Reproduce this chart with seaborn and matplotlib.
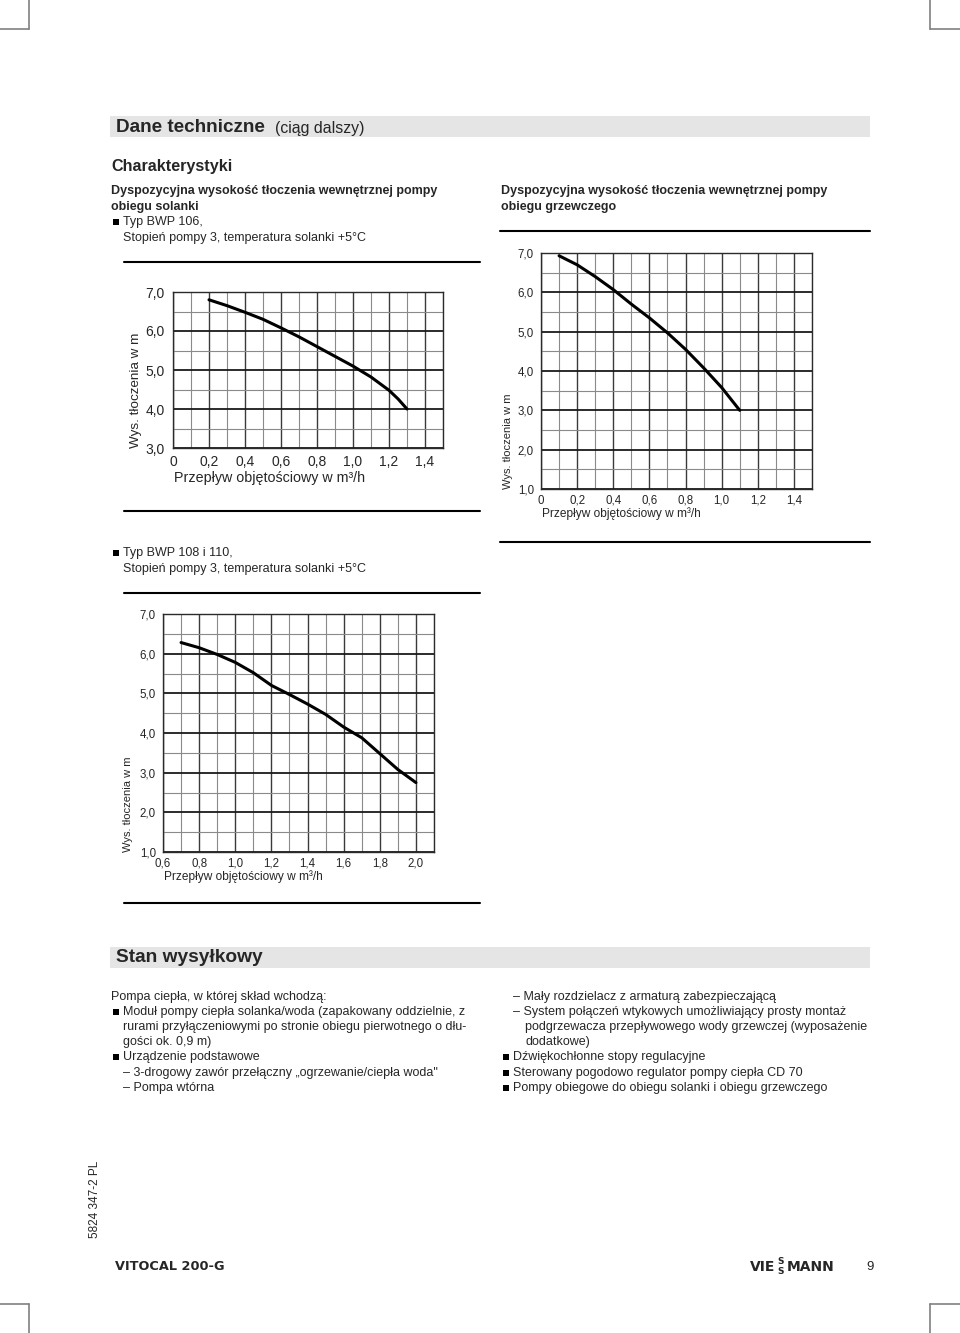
import matplotlib
matplotlib.use("Agg")
import matplotlib.pyplot as plt
from matplotlib.lines import Line2D
from matplotlib.patches import Rectangle
import seaborn as sns
import pandas as pd
import numpy as np

# ---------------- data ----------------
# Chart 1: brine circuit pump, BWP 106
flow_106 = [0.2, 0.3, 0.4, 0.5, 0.6, 0.7, 0.8, 0.9, 1.0, 1.1, 1.2, 1.25, 1.3]
head_106 = [6.80, 6.65, 6.48, 6.30, 6.08, 5.85, 5.60, 5.35, 5.10, 4.82, 4.48, 4.26, 4.00]
# Chart 2: heating circuit pump
flow_heat = [0.1, 0.2, 0.3, 0.4, 0.5, 0.6, 0.7, 0.8, 0.9, 1.0, 1.1]
head_heat = [6.93, 6.70, 6.40, 6.07, 5.70, 5.35, 4.97, 4.55, 4.08, 3.58, 3.00]
# Chart 3: brine circuit pump, BWP 108 / 110
flow_108 = [0.7, 0.8, 0.9, 1.0, 1.1, 1.2, 1.3, 1.4, 1.5, 1.6, 1.7, 1.8, 1.9, 2.0]
head_108 = [6.28, 6.15, 5.98, 5.78, 5.52, 5.20, 4.97, 4.73, 4.47, 4.15, 3.88, 3.48, 3.08, 2.75]

xticks_1 = [0, 0.2, 0.4, 0.6, 0.8, 1.0, 1.2, 1.4]
xticks_3 = [0.6, 0.8, 1.0, 1.2, 1.4, 1.6, 1.8, 2.0]
xticklabels_1 = ["0", "0,2", "0,4", "0,6", "0,8", "1,0", "1,2", "1,4"]
xticklabels_3 = ["0,6", "0,8", "1,0", "1,2", "1,4", "1,6", "1,8", "2,0"]
yticks_1 = [3, 4, 5, 6, 7]
yticks_2 = [1, 2, 3, 4, 5, 6, 7]
yticklabels_1 = ["3,0", "4,0", "5,0", "6,0", "7,0"]
yticklabels_2 = ["1,0", "2,0", "3,0", "4,0", "5,0", "6,0", "7,0"]

ylabel = "Wys. tłoczenia w m"
xlabel = "Przepływ objętościowy w m³/h"

# ---------------- style ----------------
sns.set_style("white")
plt.rcParams["font.family"] = ["Liberation Sans", "DejaVu Sans"]

W, H = 960, 1333
fig = plt.figure(figsize=(W / 100, H / 100), dpi=100)


def fx(x):
    return x / W


def fy(y):
    return 1 - y / H


def txt(x, y, s, size=9, weight="normal", ha="left", va="center", **kw):
    fig.text(fx(x), fy(y), s, fontsize=size, fontweight=weight, ha=ha, va=va, **kw)


def hline(y, x0, x1, lw=1.5, color="black"):
    fig.add_artist(Line2D([fx(x0), fx(x1)], [fy(y), fy(y)], lw=lw, color=color,
                          transform=fig.transFigure))


def vline(x, y0, y1, lw=1.0, color="#808080"):
    fig.add_artist(Line2D([fx(x), fx(x)], [fy(y0), fy(y1)], lw=lw, color=color,
                          transform=fig.transFigure))


def bar(y0, y1, x0=110, x1=870):
    fig.add_artist(Rectangle((fx(x0), fy(y1)), (x1 - x0) / W, (y1 - y0) / H,
                             facecolor="#e5e5e5", edgecolor="none",
                             transform=fig.transFigure, zorder=0))


def bullet(x, y):
    fig.add_artist(Rectangle((fx(x), fy(y + 3)), 6 / W, 6 / H,
                             facecolor="black", edgecolor="none",
                             transform=fig.transFigure))


def chart(l, t, r, b, flows, heads, xlim, ylim, xt, xtl, yt, ytl,
          fs, pad_y, pad_x, ylab_x, xlab_y, xlab_fs):
    ax = fig.add_axes([fx(l), fy(b), (r - l) / W, (b - t) / H])
    df = pd.DataFrame({"flow": flows, "head": heads})
    x0, x1 = xlim
    y0, y1 = ylim
    xs = np.round(np.arange(x0, x1 + 1e-9, 0.1), 2)
    for xv in xs:
        major = abs(round(xv * 10) % 2) == 0
        ax.axvline(xv, color="#3a3a3a" if major else "#8a8a8a",
                   lw=1.0 if major else 0.8, zorder=1)
    ys = np.arange(y0, y1 + 1e-9, 0.5)
    for yv in ys:
        major = abs(yv - round(yv)) < 1e-6
        ax.axhline(yv, color="#1a1a1a" if major else "#8a8a8a",
                   lw=1.3 if major else 0.8, zorder=1)
    sns.lineplot(data=df, x="flow", y="head", ax=ax, color="black", lw=2.2,
                 zorder=3, legend=False)
    ax.set_xlim(xlim)
    ax.set_ylim(ylim)
    ax.set_xticks(xt)
    ax.set_xticklabels(xtl)
    ax.set_yticks(yt)
    ax.set_yticklabels(ytl)
    ax.tick_params(axis="both", length=0, labelsize=fs)
    ax.tick_params(axis="y", pad=pad_y)
    ax.tick_params(axis="x", pad=pad_x)
    ax.set_xlabel("")
    ax.set_ylabel("")
    for s in ax.spines.values():
        s.set_color("#2a2a2a")
        s.set_linewidth(1.0)
    txt(ylab_x, b, ylabel, size=fs * 0.97, rotation=90, ha="center", va="bottom")
    txt(l + 1, xlab_y, xlabel, size=xlab_fs)
    return ax


# ---------------- page marks ----------------
for xm in (29, 930):
    vline(xm, 0, 29, lw=1.2)
    vline(xm, 1304, 1333, lw=1.2)
hline(29, 0, 29, lw=1.2, color="#808080")
hline(29, 930, 960, lw=1.2, color="#808080")
hline(1304, 0, 29, lw=1.2, color="#808080")
hline(1304, 930, 960, lw=1.2, color="#808080")

# ---------------- header ----------------
bar(116, 137)
txt(116, 127, "Dane techniczne", size=13.6, weight="bold")
txt(275, 128, "(ciąg dalszy)", size=11.4)
txt(111, 167, "Charakterystyki", size=11.6, weight="bold")

hs = 9.0
txt(111, 191, "Dyspozycyjna wysokość tłoczenia wewnętrznej pompy", size=hs, weight="bold")
txt(111, 207, "obiegu solanki", size=hs, weight="bold")
bullet(113, 222)
txt(123, 222, "Typ BWP 106,", size=hs)
txt(123, 238, "Stopień pompy 3, temperatura solanki +5°C", size=hs)
hline(262, 124, 480)

txt(501, 191, "Dyspozycyjna wysokość tłoczenia wewnętrznej pompy", size=hs, weight="bold")
txt(501, 207, "obiegu grzewczego", size=hs, weight="bold")
hline(231, 500, 870)

chart(173, 292, 443, 448, flow_106, head_106, (0, 1.5), (3, 7),
      xticks_1, xticklabels_1, yticks_1, yticklabels_1,
      fs=10, pad_y=6, pad_x=5, ylab_x=136, xlab_y=478, xlab_fs=10.3)
hline(511, 124, 480)

chart(541, 253, 812, 489, flow_heat, head_heat, (0, 1.5), (1, 7),
      xticks_1, xticklabels_1, yticks_2, yticklabels_2,
      fs=8.3, pad_y=5, pad_x=4, ylab_x=508, xlab_y=514, xlab_fs=8.6)
hline(542, 500, 870)

bullet(113, 553)
txt(123, 553, "Typ BWP 108 i 110,", size=hs)
txt(123, 569, "Stopień pompy 3, temperatura solanki +5°C", size=hs)
hline(593, 124, 480)

chart(163, 614, 434, 852, flow_108, head_108, (0.6, 2.1), (1, 7),
      xticks_3, xticklabels_3, yticks_2, yticklabels_2,
      fs=8.3, pad_y=5, pad_x=4, ylab_x=128, xlab_y=877, xlab_fs=8.6)
hline(903, 124, 480)

# ---------------- Stan wysyłkowy ----------------
bar(947, 968)
txt(116, 958, "Stan wysyłkowy", size=13.8, weight="bold")

bs = 9.0
left_lines = [
    (111, 997, "Pompa ciepła, w której skład wchodzą:"),
    (123, 1012, "Moduł pompy ciepła solanka/woda (zapakowany oddzielnie, z"),
    (123, 1027, "rurami przyłączeniowymi po stronie obiegu pierwotnego o dłu-"),
    (123, 1042, "gości ok. 0,9 m)"),
    (123, 1057, "Urządzenie podstawowe"),
    (123, 1073, "– 3-drogowy zawór przełączny „ogrzewanie/ciepła woda\""),
    (123, 1088, "– Pompa wtórna"),
]
for x, y, s in left_lines:
    txt(x, y, s, size=bs)
for y in (1012, 1057):
    bullet(113, y)

right_lines = [
    (513, 997, "– Mały rozdzielacz z armaturą zabezpieczającą"),
    (513, 1012, "– System połączeń wtykowych umożliwiający prosty montaż"),
    (525, 1027, "podgrzewacza przepływowego wody grzewczej (wyposażenie"),
    (525, 1042, "dodatkowe)"),
    (513, 1057, "Dźwiękochłonne stopy regulacyjne"),
    (513, 1073, "Sterowany pogodowo regulator pompy ciepła CD 70"),
    (513, 1088, "Pompy obiegowe do obiegu solanki i obiegu grzewczego"),
]
for x, y, s in right_lines:
    txt(x, y, s, size=bs)
for y in (1057, 1073, 1088):
    bullet(503, y)

# ---------------- footer ----------------
logo_font = ["DejaVu Sans"]
txt(95, 1199, "5824 347-2 PL", size=8.5, rotation=90, ha="center", va="center")
txt(115, 1267, "VITOCAL 200-G", size=9.3, weight="bold", family=logo_font)
txt(750, 1267, "VIE", size=10, weight="bold", family=logo_font)
txt(781, 1262, "S", size=6.5, weight="bold", family=logo_font, ha="center")
txt(781, 1272, "S", size=6.5, weight="bold", family=logo_font, ha="center")
txt(787, 1267, "MANN", size=10, weight="bold", family=logo_font)
txt(866, 1267, "9", size=9.5)

fig.savefig("out.png", dpi=100)
